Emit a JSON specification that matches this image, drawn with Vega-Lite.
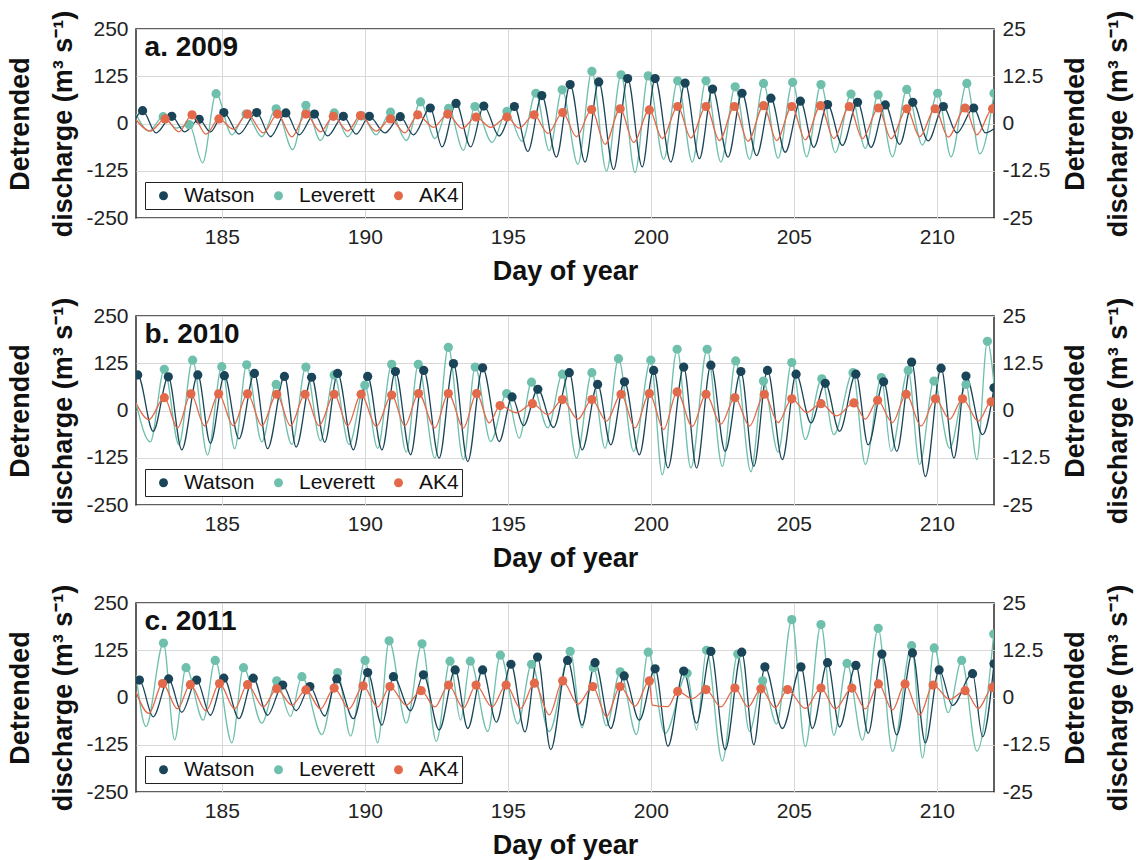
{
"$schema": "https://vega.github.io/schema/vega-lite/v6.json",
"padding": {"left": 6, "top": 9, "right": 2, "bottom": 2},
"background": "white",
"spacing": 11,
"resolve": {"scale": {"color": "independent"}},
"config": {
 "font": "Liberation Sans",
 "view": {"stroke": "#2b2b2b", "strokeWidth": 1.5},
 "axis": {"labelFontSize": 21, "labelColor": "#222", "labelFont": "Liberation Sans", "titleFontSize": 27, "titleFont": "Liberation Sans", "titleFontWeight": "bold", "titleColor": "#111", "ticks": false, "domain": false, "gridColor": "#d8d8d8", "gridWidth": 1, "labelPadding": 8, "titlePadding": 8},
 "axisX": {"titlePadding": 11},
 "axisY": {"titleLineHeight": 43},
 "legend": {"labelFontSize": 21, "labelFont": "Liberation Sans", "labelColor": "#111", "labelOffset": 10, "symbolOffset": 5}
},
"datasets": {
"a": [
{"s":"Watson","d":182.0,"v":15,"k":0},{"s":"Watson","d":182.23,"v":34,"k":1},{"s":"Watson","d":182.7,"v":-25,"k":0},{"s":"Watson","d":183.25,"v":19,"k":1},{"s":"Watson","d":183.7,"v":-22,"k":0},{"s":"Watson","d":184.21,"v":11,"k":1},{"s":"Watson","d":184.6,"v":-22,"k":0},{"s":"Watson","d":185.07,"v":29,"k":1},{"s":"Watson","d":185.6,"v":-28,"k":0},{"s":"Watson","d":186.22,"v":29,"k":1},{"s":"Watson","d":186.7,"v":-35,"k":0},{"s":"Watson","d":187.24,"v":28,"k":1},{"s":"Watson","d":187.7,"v":-30,"k":0},{"s":"Watson","d":188.24,"v":25,"k":1},{"s":"Watson","d":188.7,"v":-33,"k":0},{"s":"Watson","d":189.25,"v":19,"k":1},{"s":"Watson","d":189.7,"v":-28,"k":0},{"s":"Watson","d":190.16,"v":19,"k":1},{"s":"Watson","d":190.7,"v":-25,"k":0},{"s":"Watson","d":191.24,"v":18,"k":1},{"s":"Watson","d":191.7,"v":-30,"k":0},{"s":"Watson","d":192.29,"v":41,"k":1},{"s":"Watson","d":192.7,"v":-62,"k":0},{"s":"Watson","d":193.19,"v":53,"k":1},{"s":"Watson","d":193.7,"v":-62,"k":0},{"s":"Watson","d":194.16,"v":46,"k":1},{"s":"Watson","d":194.7,"v":-33,"k":0},{"s":"Watson","d":195.23,"v":45,"k":1},{"s":"Watson","d":195.7,"v":-74,"k":0},{"s":"Watson","d":196.19,"v":74,"k":1},{"s":"Watson","d":196.7,"v":-89,"k":0},{"s":"Watson","d":197.18,"v":103,"k":1},{"s":"Watson","d":197.7,"v":-102,"k":0},{"s":"Watson","d":198.18,"v":110,"k":1},{"s":"Watson","d":198.7,"v":-122,"k":0},{"s":"Watson","d":199.19,"v":119,"k":1},{"s":"Watson","d":199.7,"v":-115,"k":0},{"s":"Watson","d":200.15,"v":119,"k":1},{"s":"Watson","d":200.7,"v":-102,"k":0},{"s":"Watson","d":201.2,"v":107,"k":1},{"s":"Watson","d":201.7,"v":-93,"k":0},{"s":"Watson","d":202.16,"v":91,"k":1},{"s":"Watson","d":202.7,"v":-89,"k":0},{"s":"Watson","d":203.19,"v":80,"k":1},{"s":"Watson","d":203.7,"v":-85,"k":0},{"s":"Watson","d":204.2,"v":67,"k":1},{"s":"Watson","d":204.7,"v":-76,"k":0},{"s":"Watson","d":205.23,"v":59,"k":1},{"s":"Watson","d":205.7,"v":-63,"k":0},{"s":"Watson","d":206.18,"v":50,"k":1},{"s":"Watson","d":206.7,"v":-58,"k":0},{"s":"Watson","d":207.23,"v":56,"k":1},{"s":"Watson","d":207.7,"v":-63,"k":0},{"s":"Watson","d":208.2,"v":49,"k":1},{"s":"Watson","d":208.7,"v":-55,"k":0},{"s":"Watson","d":209.16,"v":56,"k":1},{"s":"Watson","d":209.7,"v":-46,"k":0},{"s":"Watson","d":210.23,"v":45,"k":1},{"s":"Watson","d":210.7,"v":-25,"k":0},{"s":"Watson","d":211.29,"v":41,"k":1},{"s":"Watson","d":211.7,"v":-25,"k":0},{"s":"Watson","d":212.0,"v":-14,"k":0},
{"s":"Leverett","d":182.0,"v":25,"k":0},{"s":"Leverett","d":182.45,"v":-20,"k":0},{"s":"Leverett","d":182.95,"v":18,"k":1},{"s":"Leverett","d":183.4,"v":-12,"k":0},{"s":"Leverett","d":183.86,"v":-3,"k":1},{"s":"Leverett","d":184.33,"v":-104,"k":0},{"s":"Leverett","d":184.8,"v":79,"k":1},{"s":"Leverett","d":185.35,"v":-30,"k":0},{"s":"Leverett","d":185.85,"v":25,"k":1},{"s":"Leverett","d":186.4,"v":-35,"k":0},{"s":"Leverett","d":186.9,"v":39,"k":1},{"s":"Leverett","d":187.48,"v":-69,"k":0},{"s":"Leverett","d":187.94,"v":48,"k":1},{"s":"Leverett","d":188.45,"v":-45,"k":0},{"s":"Leverett","d":188.93,"v":28,"k":1},{"s":"Leverett","d":189.4,"v":-35,"k":0},{"s":"Leverett","d":189.9,"v":20,"k":1},{"s":"Leverett","d":190.4,"v":-30,"k":0},{"s":"Leverett","d":190.9,"v":30,"k":1},{"s":"Leverett","d":191.45,"v":-45,"k":0},{"s":"Leverett","d":191.95,"v":57,"k":1},{"s":"Leverett","d":192.45,"v":-40,"k":0},{"s":"Leverett","d":192.93,"v":40,"k":1},{"s":"Leverett","d":193.45,"v":-71,"k":0},{"s":"Leverett","d":193.85,"v":45,"k":1},{"s":"Leverett","d":194.45,"v":-50,"k":0},{"s":"Leverett","d":194.97,"v":32,"k":1},{"s":"Leverett","d":195.5,"v":-47,"k":0},{"s":"Leverett","d":195.98,"v":80,"k":1},{"s":"Leverett","d":196.45,"v":-72,"k":0},{"s":"Leverett","d":196.9,"v":89,"k":1},{"s":"Leverett","d":197.45,"v":-108,"k":0},{"s":"Leverett","d":197.94,"v":138,"k":1},{"s":"Leverett","d":198.45,"v":-126,"k":0},{"s":"Leverett","d":198.96,"v":129,"k":1},{"s":"Leverett","d":199.45,"v":-130,"k":0},{"s":"Leverett","d":199.91,"v":126,"k":1},{"s":"Leverett","d":200.45,"v":-95,"k":0},{"s":"Leverett","d":200.94,"v":113,"k":1},{"s":"Leverett","d":201.45,"v":-102,"k":0},{"s":"Leverett","d":201.93,"v":113,"k":1},{"s":"Leverett","d":202.45,"v":-102,"k":0},{"s":"Leverett","d":202.95,"v":97,"k":1},{"s":"Leverett","d":203.45,"v":-95,"k":0},{"s":"Leverett","d":203.94,"v":106,"k":1},{"s":"Leverett","d":204.45,"v":-92,"k":0},{"s":"Leverett","d":204.96,"v":109,"k":1},{"s":"Leverett","d":205.45,"v":-88,"k":0},{"s":"Leverett","d":205.95,"v":103,"k":1},{"s":"Leverett","d":206.45,"v":-77,"k":0},{"s":"Leverett","d":207.0,"v":78,"k":1},{"s":"Leverett","d":207.5,"v":-66,"k":0},{"s":"Leverett","d":207.95,"v":76,"k":1},{"s":"Leverett","d":208.45,"v":-88,"k":0},{"s":"Leverett","d":208.95,"v":90,"k":1},{"s":"Leverett","d":209.5,"v":-57,"k":0},{"s":"Leverett","d":210.03,"v":80,"k":1},{"s":"Leverett","d":210.5,"v":-88,"k":0},{"s":"Leverett","d":211.05,"v":106,"k":1},{"s":"Leverett","d":211.5,"v":-80,"k":0},{"s":"Leverett","d":212.0,"v":80,"k":1},
{"s":"AK4","d":182.0,"v":1.0,"k":0},{"s":"AK4","d":182.5,"v":-2.0,"k":0},{"s":"AK4","d":183.02,"v":1.2,"k":1},{"s":"AK4","d":183.5,"v":-2.2,"k":0},{"s":"AK4","d":183.96,"v":2.3,"k":1},{"s":"AK4","d":184.45,"v":-2.8,"k":0},{"s":"AK4","d":184.9,"v":1.2,"k":1},{"s":"AK4","d":185.4,"v":-1.5,"k":0},{"s":"AK4","d":185.9,"v":2.5,"k":1},{"s":"AK4","d":186.45,"v":-2.5,"k":0},{"s":"AK4","d":186.95,"v":2.5,"k":1},{"s":"AK4","d":187.45,"v":-3.5,"k":0},{"s":"AK4","d":187.94,"v":2.5,"k":1},{"s":"AK4","d":188.45,"v":-2.2,"k":0},{"s":"AK4","d":188.9,"v":1.9,"k":1},{"s":"AK4","d":189.4,"v":-2.0,"k":0},{"s":"AK4","d":189.85,"v":2.1,"k":1},{"s":"AK4","d":190.4,"v":-2.0,"k":0},{"s":"AK4","d":190.9,"v":1.2,"k":1},{"s":"AK4","d":191.4,"v":-2.5,"k":0},{"s":"AK4","d":191.85,"v":2.3,"k":1},{"s":"AK4","d":192.4,"v":-1.0,"k":0},{"s":"AK4","d":192.9,"v":2.5,"k":1},{"s":"AK4","d":193.4,"v":-1.3,"k":0},{"s":"AK4","d":193.89,"v":1.7,"k":1},{"s":"AK4","d":194.4,"v":-1.0,"k":0},{"s":"AK4","d":194.97,"v":1.7,"k":1},{"s":"AK4","d":195.4,"v":-1.2,"k":0},{"s":"AK4","d":195.92,"v":2.3,"k":1},{"s":"AK4","d":196.4,"v":-2.6,"k":0},{"s":"AK4","d":196.92,"v":2.9,"k":1},{"s":"AK4","d":197.4,"v":-3.5,"k":0},{"s":"AK4","d":197.93,"v":3.7,"k":1},{"s":"AK4","d":198.4,"v":-5.5,"k":0},{"s":"AK4","d":198.93,"v":3.9,"k":1},{"s":"AK4","d":199.4,"v":-5.0,"k":0},{"s":"AK4","d":199.95,"v":3.6,"k":1},{"s":"AK4","d":200.4,"v":-4.0,"k":0},{"s":"AK4","d":200.94,"v":4.5,"k":1},{"s":"AK4","d":201.4,"v":-3.8,"k":0},{"s":"AK4","d":201.93,"v":4.5,"k":1},{"s":"AK4","d":202.4,"v":-4.5,"k":0},{"s":"AK4","d":202.92,"v":4.5,"k":1},{"s":"AK4","d":203.4,"v":-4.7,"k":0},{"s":"AK4","d":203.94,"v":4.7,"k":1},{"s":"AK4","d":204.4,"v":-4.5,"k":0},{"s":"AK4","d":204.93,"v":4.5,"k":1},{"s":"AK4","d":205.4,"v":-4.3,"k":0},{"s":"AK4","d":205.93,"v":4.7,"k":1},{"s":"AK4","d":206.4,"v":-4.0,"k":0},{"s":"AK4","d":206.94,"v":4.5,"k":1},{"s":"AK4","d":207.4,"v":-4.0,"k":0},{"s":"AK4","d":207.96,"v":4.1,"k":1},{"s":"AK4","d":208.4,"v":-4.0,"k":0},{"s":"AK4","d":208.95,"v":3.9,"k":1},{"s":"AK4","d":209.4,"v":-3.5,"k":0},{"s":"AK4","d":209.94,"v":3.9,"k":1},{"s":"AK4","d":210.4,"v":-3.6,"k":0},{"s":"AK4","d":210.99,"v":4.1,"k":1},{"s":"AK4","d":211.4,"v":-3.0,"k":0},{"s":"AK4","d":211.95,"v":3.9,"k":1},{"s":"AK4","d":212.0,"v":3.8,"k":0}
],
"b": [
{"s":"Watson","d":182.0,"v":85,"k":0},{"s":"Watson","d":182.06,"v":94,"k":1},{"s":"Watson","d":182.6,"v":-55,"k":0},{"s":"Watson","d":183.13,"v":89,"k":1},{"s":"Watson","d":183.6,"v":-104,"k":0},{"s":"Watson","d":184.16,"v":94,"k":1},{"s":"Watson","d":184.6,"v":-87,"k":0},{"s":"Watson","d":185.09,"v":92,"k":1},{"s":"Watson","d":185.6,"v":-75,"k":0},{"s":"Watson","d":186.14,"v":98,"k":1},{"s":"Watson","d":186.6,"v":-101,"k":0},{"s":"Watson","d":187.19,"v":90,"k":1},{"s":"Watson","d":187.6,"v":-97,"k":0},{"s":"Watson","d":188.14,"v":88,"k":1},{"s":"Watson","d":188.6,"v":-84,"k":0},{"s":"Watson","d":189.05,"v":98,"k":1},{"s":"Watson","d":189.6,"v":-104,"k":0},{"s":"Watson","d":190.1,"v":90,"k":1},{"s":"Watson","d":190.6,"v":-104,"k":0},{"s":"Watson","d":191.07,"v":103,"k":1},{"s":"Watson","d":191.6,"v":-117,"k":0},{"s":"Watson","d":192.06,"v":106,"k":1},{"s":"Watson","d":192.6,"v":-126,"k":0},{"s":"Watson","d":193.1,"v":124,"k":1},{"s":"Watson","d":193.6,"v":-135,"k":0},{"s":"Watson","d":194.12,"v":113,"k":1},{"s":"Watson","d":194.7,"v":-82,"k":0},{"s":"Watson","d":195.15,"v":36,"k":1},{"s":"Watson","d":195.55,"v":-40,"k":0},{"s":"Watson","d":196.05,"v":56,"k":1},{"s":"Watson","d":196.6,"v":-45,"k":0},{"s":"Watson","d":197.15,"v":100,"k":1},{"s":"Watson","d":197.6,"v":-104,"k":0},{"s":"Watson","d":198.14,"v":69,"k":1},{"s":"Watson","d":198.6,"v":-91,"k":0},{"s":"Watson","d":199.08,"v":76,"k":1},{"s":"Watson","d":199.6,"v":-117,"k":0},{"s":"Watson","d":200.1,"v":106,"k":1},{"s":"Watson","d":200.6,"v":-152,"k":0},{"s":"Watson","d":201.15,"v":115,"k":1},{"s":"Watson","d":201.6,"v":-152,"k":0},{"s":"Watson","d":202.1,"v":120,"k":1},{"s":"Watson","d":202.6,"v":-108,"k":0},{"s":"Watson","d":203.15,"v":103,"k":1},{"s":"Watson","d":203.6,"v":-148,"k":0},{"s":"Watson","d":204.08,"v":106,"k":1},{"s":"Watson","d":204.6,"v":-130,"k":0},{"s":"Watson","d":205.08,"v":96,"k":1},{"s":"Watson","d":205.6,"v":-33,"k":0},{"s":"Watson","d":206.1,"v":72,"k":1},{"s":"Watson","d":206.6,"v":-55,"k":0},{"s":"Watson","d":207.17,"v":96,"k":1},{"s":"Watson","d":207.6,"v":-91,"k":0},{"s":"Watson","d":208.14,"v":76,"k":1},{"s":"Watson","d":208.6,"v":-108,"k":0},{"s":"Watson","d":209.12,"v":128,"k":1},{"s":"Watson","d":209.6,"v":-175,"k":0},{"s":"Watson","d":210.15,"v":112,"k":1},{"s":"Watson","d":210.6,"v":-126,"k":0},{"s":"Watson","d":211.02,"v":91,"k":1},{"s":"Watson","d":211.6,"v":-64,"k":0},{"s":"Watson","d":212.0,"v":60,"k":1},
{"s":"Leverett","d":182.0,"v":20,"k":0},{"s":"Leverett","d":182.5,"v":-83,"k":0},{"s":"Leverett","d":182.99,"v":109,"k":1},{"s":"Leverett","d":183.5,"v":-90,"k":0},{"s":"Leverett","d":183.98,"v":133,"k":1},{"s":"Leverett","d":184.5,"v":-118,"k":0},{"s":"Leverett","d":185.0,"v":116,"k":1},{"s":"Leverett","d":185.45,"v":-101,"k":0},{"s":"Leverett","d":185.87,"v":121,"k":1},{"s":"Leverett","d":186.4,"v":-83,"k":0},{"s":"Leverett","d":186.9,"v":69,"k":1},{"s":"Leverett","d":187.45,"v":-90,"k":0},{"s":"Leverett","d":187.94,"v":115,"k":1},{"s":"Leverett","d":188.45,"v":-80,"k":0},{"s":"Leverett","d":188.93,"v":94,"k":1},{"s":"Leverett","d":189.45,"v":-90,"k":0},{"s":"Leverett","d":190.0,"v":67,"k":1},{"s":"Leverett","d":190.45,"v":-100,"k":0},{"s":"Leverett","d":190.94,"v":122,"k":1},{"s":"Leverett","d":191.45,"v":-110,"k":0},{"s":"Leverett","d":191.87,"v":122,"k":1},{"s":"Leverett","d":192.45,"v":-126,"k":0},{"s":"Leverett","d":192.92,"v":167,"k":1},{"s":"Leverett","d":193.45,"v":-130,"k":0},{"s":"Leverett","d":193.86,"v":115,"k":1},{"s":"Leverett","d":194.4,"v":-82,"k":0},{"s":"Leverett","d":194.96,"v":45,"k":1},{"s":"Leverett","d":195.4,"v":-73,"k":0},{"s":"Leverett","d":195.83,"v":75,"k":1},{"s":"Leverett","d":196.4,"v":-46,"k":0},{"s":"Leverett","d":196.91,"v":96,"k":1},{"s":"Leverett","d":197.4,"v":-126,"k":0},{"s":"Leverett","d":197.94,"v":100,"k":1},{"s":"Leverett","d":198.4,"v":-100,"k":0},{"s":"Leverett","d":198.87,"v":137,"k":1},{"s":"Leverett","d":199.4,"v":-108,"k":0},{"s":"Leverett","d":200.0,"v":133,"k":1},{"s":"Leverett","d":200.4,"v":-170,"k":0},{"s":"Leverett","d":200.92,"v":162,"k":1},{"s":"Leverett","d":201.4,"v":-152,"k":0},{"s":"Leverett","d":201.97,"v":162,"k":1},{"s":"Leverett","d":202.5,"v":-148,"k":0},{"s":"Leverett","d":202.97,"v":131,"k":1},{"s":"Leverett","d":203.5,"v":-162,"k":0},{"s":"Leverett","d":203.94,"v":78,"k":1},{"s":"Leverett","d":204.45,"v":-110,"k":0},{"s":"Leverett","d":204.93,"v":127,"k":1},{"s":"Leverett","d":205.4,"v":-77,"k":0},{"s":"Leverett","d":205.98,"v":84,"k":1},{"s":"Leverett","d":206.4,"v":-64,"k":0},{"s":"Leverett","d":207.07,"v":100,"k":1},{"s":"Leverett","d":207.5,"v":-143,"k":0},{"s":"Leverett","d":208.06,"v":87,"k":1},{"s":"Leverett","d":208.4,"v":-108,"k":0},{"s":"Leverett","d":209.0,"v":106,"k":1},{"s":"Leverett","d":209.4,"v":-143,"k":0},{"s":"Leverett","d":209.9,"v":78,"k":1},{"s":"Leverett","d":210.45,"v":-100,"k":0},{"s":"Leverett","d":211.02,"v":69,"k":1},{"s":"Leverett","d":211.4,"v":-130,"k":0},{"s":"Leverett","d":211.77,"v":183,"k":1},{"s":"Leverett","d":212.0,"v":70,"k":0},
{"s":"AK4","d":182.0,"v":2.0,"k":0},{"s":"AK4","d":182.45,"v":-2.4,"k":0},{"s":"AK4","d":182.99,"v":3.4,"k":1},{"s":"AK4","d":183.45,"v":-4.6,"k":0},{"s":"AK4","d":183.92,"v":4.4,"k":1},{"s":"AK4","d":184.4,"v":-4.1,"k":0},{"s":"AK4","d":184.89,"v":4.4,"k":1},{"s":"AK4","d":185.4,"v":-4.0,"k":0},{"s":"AK4","d":185.9,"v":4.4,"k":1},{"s":"AK4","d":186.4,"v":-4.0,"k":0},{"s":"AK4","d":186.92,"v":4.3,"k":1},{"s":"AK4","d":187.4,"v":-4.0,"k":0},{"s":"AK4","d":187.91,"v":4.3,"k":1},{"s":"AK4","d":188.4,"v":-4.0,"k":0},{"s":"AK4","d":188.93,"v":4.3,"k":1},{"s":"AK4","d":189.4,"v":-4.0,"k":0},{"s":"AK4","d":189.87,"v":4.3,"k":1},{"s":"AK4","d":190.4,"v":-4.2,"k":0},{"s":"AK4","d":190.94,"v":4.1,"k":1},{"s":"AK4","d":191.4,"v":-4.0,"k":0},{"s":"AK4","d":191.88,"v":4.5,"k":1},{"s":"AK4","d":192.45,"v":-4.6,"k":0},{"s":"AK4","d":192.92,"v":4.5,"k":1},{"s":"AK4","d":193.45,"v":-4.6,"k":0},{"s":"AK4","d":193.91,"v":4.5,"k":1},{"s":"AK4","d":194.35,"v":-3.3,"k":0},{"s":"AK4","d":194.73,"v":1.3,"k":1},{"s":"AK4","d":195.3,"v":-0.6,"k":0},{"s":"AK4","d":195.86,"v":1.8,"k":1},{"s":"AK4","d":196.4,"v":-1.1,"k":0},{"s":"AK4","d":196.91,"v":2.9,"k":1},{"s":"AK4","d":197.45,"v":-2.3,"k":0},{"s":"AK4","d":197.94,"v":2.9,"k":1},{"s":"AK4","d":198.45,"v":-2.8,"k":0},{"s":"AK4","d":198.96,"v":4.3,"k":1},{"s":"AK4","d":199.45,"v":-4.6,"k":0},{"s":"AK4","d":199.95,"v":4.5,"k":1},{"s":"AK4","d":200.45,"v":-5.0,"k":0},{"s":"AK4","d":200.92,"v":4.9,"k":1},{"s":"AK4","d":201.45,"v":-4.2,"k":0},{"s":"AK4","d":201.93,"v":4.3,"k":1},{"s":"AK4","d":202.45,"v":-3.6,"k":0},{"s":"AK4","d":202.94,"v":3.4,"k":1},{"s":"AK4","d":203.45,"v":-4.1,"k":0},{"s":"AK4","d":203.97,"v":4.3,"k":1},{"s":"AK4","d":204.45,"v":-3.2,"k":0},{"s":"AK4","d":204.93,"v":3.1,"k":1},{"s":"AK4","d":205.45,"v":-0.5,"k":0},{"s":"AK4","d":205.95,"v":1.8,"k":1},{"s":"AK4","d":206.5,"v":-1.4,"k":0},{"s":"AK4","d":207.1,"v":2.0,"k":1},{"s":"AK4","d":207.5,"v":-2.3,"k":0},{"s":"AK4","d":207.93,"v":2.7,"k":1},{"s":"AK4","d":208.45,"v":-3.2,"k":0},{"s":"AK4","d":208.93,"v":4.3,"k":1},{"s":"AK4","d":209.45,"v":-4.1,"k":0},{"s":"AK4","d":209.95,"v":3.1,"k":1},{"s":"AK4","d":210.45,"v":-2.3,"k":0},{"s":"AK4","d":210.9,"v":3.1,"k":1},{"s":"AK4","d":211.45,"v":-2.8,"k":0},{"s":"AK4","d":211.9,"v":2.3,"k":1},{"s":"AK4","d":212.0,"v":2.0,"k":0}
],
"c": [
{"s":"Watson","d":182.0,"v":35,"k":0},{"s":"Watson","d":182.12,"v":46,"k":1},{"s":"Watson","d":182.6,"v":-51,"k":0},{"s":"Watson","d":183.14,"v":49,"k":1},{"s":"Watson","d":183.6,"v":-39,"k":0},{"s":"Watson","d":184.12,"v":46,"k":1},{"s":"Watson","d":184.6,"v":-47,"k":0},{"s":"Watson","d":185.07,"v":51,"k":1},{"s":"Watson","d":185.6,"v":-56,"k":0},{"s":"Watson","d":186.1,"v":51,"k":1},{"s":"Watson","d":186.6,"v":-47,"k":0},{"s":"Watson","d":187.13,"v":33,"k":1},{"s":"Watson","d":187.6,"v":-35,"k":0},{"s":"Watson","d":188.08,"v":29,"k":1},{"s":"Watson","d":188.6,"v":-49,"k":0},{"s":"Watson","d":189.02,"v":49,"k":1},{"s":"Watson","d":189.6,"v":-56,"k":0},{"s":"Watson","d":190.1,"v":66,"k":1},{"s":"Watson","d":190.6,"v":-73,"k":0},{"s":"Watson","d":191.0,"v":55,"k":1},{"s":"Watson","d":191.6,"v":-35,"k":0},{"s":"Watson","d":192.05,"v":60,"k":1},{"s":"Watson","d":192.6,"v":-86,"k":0},{"s":"Watson","d":193.16,"v":73,"k":1},{"s":"Watson","d":193.6,"v":-82,"k":0},{"s":"Watson","d":194.12,"v":73,"k":1},{"s":"Watson","d":194.6,"v":-65,"k":0},{"s":"Watson","d":195.11,"v":88,"k":1},{"s":"Watson","d":195.6,"v":-91,"k":0},{"s":"Watson","d":196.04,"v":107,"k":1},{"s":"Watson","d":196.5,"v":-138,"k":0},{"s":"Watson","d":197.09,"v":98,"k":1},{"s":"Watson","d":197.6,"v":-73,"k":0},{"s":"Watson","d":198.05,"v":92,"k":1},{"s":"Watson","d":198.6,"v":-82,"k":0},{"s":"Watson","d":199.07,"v":57,"k":1},{"s":"Watson","d":199.6,"v":-60,"k":0},{"s":"Watson","d":200.15,"v":76,"k":1},{"s":"Watson","d":200.6,"v":-129,"k":0},{"s":"Watson","d":201.15,"v":70,"k":1},{"s":"Watson","d":201.6,"v":-68,"k":0},{"s":"Watson","d":202.1,"v":122,"k":1},{"s":"Watson","d":202.6,"v":-138,"k":0},{"s":"Watson","d":203.18,"v":120,"k":1},{"s":"Watson","d":203.6,"v":-125,"k":0},{"s":"Watson","d":203.99,"v":81,"k":1},{"s":"Watson","d":204.6,"v":-82,"k":0},{"s":"Watson","d":205.25,"v":81,"k":1},{"s":"Watson","d":205.65,"v":-82,"k":0},{"s":"Watson","d":206.18,"v":92,"k":1},{"s":"Watson","d":206.6,"v":-78,"k":0},{"s":"Watson","d":207.17,"v":85,"k":1},{"s":"Watson","d":207.6,"v":-95,"k":0},{"s":"Watson","d":208.08,"v":115,"k":1},{"s":"Watson","d":208.6,"v":-99,"k":0},{"s":"Watson","d":209.15,"v":118,"k":1},{"s":"Watson","d":209.6,"v":-120,"k":0},{"s":"Watson","d":210.08,"v":73,"k":1},{"s":"Watson","d":210.55,"v":-21,"k":0},{"s":"Watson","d":211.25,"v":63,"k":1},{"s":"Watson","d":211.6,"v":-104,"k":0},{"s":"Watson","d":212.0,"v":89,"k":1},
{"s":"Leverett","d":182.0,"v":60,"k":0},{"s":"Leverett","d":182.35,"v":-77,"k":0},{"s":"Leverett","d":182.96,"v":144,"k":1},{"s":"Leverett","d":183.35,"v":-112,"k":0},{"s":"Leverett","d":183.75,"v":79,"k":1},{"s":"Leverett","d":184.35,"v":-60,"k":0},{"s":"Leverett","d":184.77,"v":98,"k":1},{"s":"Leverett","d":185.35,"v":-120,"k":0},{"s":"Leverett","d":185.76,"v":79,"k":1},{"s":"Leverett","d":186.4,"v":-68,"k":0},{"s":"Leverett","d":186.92,"v":44,"k":1},{"s":"Leverett","d":187.4,"v":-50,"k":0},{"s":"Leverett","d":187.8,"v":55,"k":1},{"s":"Leverett","d":188.5,"v":-98,"k":0},{"s":"Leverett","d":189.05,"v":66,"k":1},{"s":"Leverett","d":189.5,"v":-102,"k":0},{"s":"Leverett","d":190.01,"v":98,"k":1},{"s":"Leverett","d":190.45,"v":-120,"k":0},{"s":"Leverett","d":190.85,"v":150,"k":1},{"s":"Leverett","d":191.45,"v":-68,"k":0},{"s":"Leverett","d":192.0,"v":142,"k":1},{"s":"Leverett","d":192.5,"v":-116,"k":0},{"s":"Leverett","d":192.98,"v":96,"k":1},{"s":"Leverett","d":193.35,"v":-60,"k":0},{"s":"Leverett","d":193.69,"v":96,"k":1},{"s":"Leverett","d":194.3,"v":-90,"k":0},{"s":"Leverett","d":194.74,"v":112,"k":1},{"s":"Leverett","d":195.35,"v":-70,"k":0},{"s":"Leverett","d":195.83,"v":88,"k":1},{"s":"Leverett","d":196.45,"v":-90,"k":0},{"s":"Leverett","d":197.18,"v":122,"k":1},{"s":"Leverett","d":197.6,"v":-80,"k":0},{"s":"Leverett","d":197.99,"v":79,"k":1},{"s":"Leverett","d":198.45,"v":-75,"k":0},{"s":"Leverett","d":198.93,"v":68,"k":1},{"s":"Leverett","d":199.5,"v":-98,"k":0},{"s":"Leverett","d":199.91,"v":120,"k":1},{"s":"Leverett","d":200.5,"v":-95,"k":0},{"s":"Leverett","d":201.27,"v":64,"k":1},{"s":"Leverett","d":201.6,"v":-86,"k":0},{"s":"Leverett","d":201.95,"v":125,"k":1},{"s":"Leverett","d":202.5,"v":-168,"k":0},{"s":"Leverett","d":203.04,"v":115,"k":1},{"s":"Leverett","d":203.45,"v":-90,"k":0},{"s":"Leverett","d":203.91,"v":44,"k":1},{"s":"Leverett","d":204.4,"v":-70,"k":0},{"s":"Leverett","d":204.93,"v":206,"k":1},{"s":"Leverett","d":205.4,"v":-130,"k":0},{"s":"Leverett","d":205.95,"v":193,"k":1},{"s":"Leverett","d":206.4,"v":-100,"k":0},{"s":"Leverett","d":206.86,"v":90,"k":1},{"s":"Leverett","d":207.4,"v":-113,"k":0},{"s":"Leverett","d":207.95,"v":183,"k":1},{"s":"Leverett","d":208.45,"v":-143,"k":0},{"s":"Leverett","d":209.12,"v":137,"k":1},{"s":"Leverett","d":209.5,"v":-160,"k":0},{"s":"Leverett","d":209.91,"v":131,"k":1},{"s":"Leverett","d":210.4,"v":-40,"k":0},{"s":"Leverett","d":210.87,"v":98,"k":1},{"s":"Leverett","d":211.4,"v":-142,"k":0},{"s":"Leverett","d":211.99,"v":168,"k":1},
{"s":"AK4","d":182.0,"v":1.5,"k":0},{"s":"AK4","d":182.45,"v":-4.2,"k":0},{"s":"AK4","d":182.93,"v":3.7,"k":1},{"s":"AK4","d":183.45,"v":-3.0,"k":0},{"s":"AK4","d":183.9,"v":3.4,"k":1},{"s":"AK4","d":184.45,"v":-3.5,"k":0},{"s":"AK4","d":184.92,"v":3.7,"k":1},{"s":"AK4","d":185.45,"v":-3.0,"k":0},{"s":"AK4","d":185.9,"v":3.4,"k":1},{"s":"AK4","d":186.45,"v":-2.5,"k":0},{"s":"AK4","d":186.92,"v":2.3,"k":1},{"s":"AK4","d":187.45,"v":-2.0,"k":0},{"s":"AK4","d":187.94,"v":2.0,"k":1},{"s":"AK4","d":188.45,"v":-3.0,"k":0},{"s":"AK4","d":188.93,"v":2.5,"k":1},{"s":"AK4","d":189.45,"v":-3.0,"k":0},{"s":"AK4","d":189.94,"v":3.1,"k":1},{"s":"AK4","d":190.45,"v":-2.5,"k":0},{"s":"AK4","d":190.88,"v":2.9,"k":1},{"s":"AK4","d":191.45,"v":-2.0,"k":0},{"s":"AK4","d":191.97,"v":1.8,"k":1},{"s":"AK4","d":192.45,"v":-2.5,"k":0},{"s":"AK4","d":192.93,"v":3.3,"k":1},{"s":"AK4","d":193.45,"v":-2.8,"k":0},{"s":"AK4","d":193.89,"v":3.3,"k":1},{"s":"AK4","d":194.45,"v":-2.5,"k":0},{"s":"AK4","d":194.94,"v":3.3,"k":1},{"s":"AK4","d":195.45,"v":-2.9,"k":0},{"s":"AK4","d":195.93,"v":3.8,"k":1},{"s":"AK4","d":196.45,"v":-4.6,"k":0},{"s":"AK4","d":196.92,"v":4.4,"k":1},{"s":"AK4","d":197.45,"v":-1.8,"k":0},{"s":"AK4","d":197.97,"v":2.9,"k":1},{"s":"AK4","d":198.45,"v":-5.0,"k":0},{"s":"AK4","d":198.93,"v":2.9,"k":1},{"s":"AK4","d":199.45,"v":-2.3,"k":0},{"s":"AK4","d":199.95,"v":4.4,"k":1},{"s":"AK4","d":200.05,"v":-2.0,"k":0},{"s":"AK4","d":200.6,"v":-2.4,"k":0},{"s":"AK4","d":200.94,"v":1.6,"k":1},{"s":"AK4","d":201.45,"v":-0.3,"k":0},{"s":"AK4","d":201.93,"v":2.1,"k":1},{"s":"AK4","d":202.45,"v":-2.5,"k":0},{"s":"AK4","d":202.94,"v":2.5,"k":1},{"s":"AK4","d":203.4,"v":-2.5,"k":0},{"s":"AK4","d":203.85,"v":2.3,"k":1},{"s":"AK4","d":204.35,"v":-2.7,"k":0},{"s":"AK4","d":204.78,"v":2.1,"k":1},{"s":"AK4","d":205.4,"v":-2.9,"k":0},{"s":"AK4","d":205.95,"v":2.5,"k":1},{"s":"AK4","d":206.45,"v":-3.0,"k":0},{"s":"AK4","d":207.03,"v":2.5,"k":1},{"s":"AK4","d":207.5,"v":-3.0,"k":0},{"s":"AK4","d":207.96,"v":3.6,"k":1},{"s":"AK4","d":208.45,"v":-3.3,"k":0},{"s":"AK4","d":208.89,"v":3.6,"k":1},{"s":"AK4","d":209.4,"v":-4.6,"k":0},{"s":"AK4","d":209.87,"v":3.3,"k":1},{"s":"AK4","d":210.45,"v":-0.5,"k":0},{"s":"AK4","d":210.99,"v":1.8,"k":1},{"s":"AK4","d":211.45,"v":-2.9,"k":0},{"s":"AK4","d":211.95,"v":2.7,"k":1},{"s":"AK4","d":212.0,"v":2.5,"k":0}
]
},
"vconcat": [
{
 "width": 858, "height": 189,
 "resolve": {"scale": {"y": "independent"}},
 "layer": [
  {"data": {"name": "a"},
   "layer": [
    {"transform": [{"filter": "datum.s == 'Leverett'"}], "mark": {"type": "line", "interpolate": "monotone", "strokeWidth": 1.3, "clip": true, "color": "#6fbfad"},
     "encoding": {"x": {"field": "d", "type": "quantitative", "scale": {"domain": [182, 212], "nice": false, "zero": false}, "axis": {"values": [185, 190, 195, 200, 205, 210], "title": "Day of year", "grid": true}},
      "y": {"field": "v", "type": "quantitative", "scale": {"domain": [-250, 250], "nice": false, "zero": false}, "axis": {"values": [-250, -125, 0, 125, 250], "title": ["Detrended", "discharge (m³ s⁻¹)"], "grid": true, "labelExpr": "'' + datum.value"}}}},
    {"transform": [{"filter": "datum.s == 'Watson'"}], "mark": {"type": "line", "interpolate": "monotone", "strokeWidth": 1.3, "clip": true, "color": "#1a4558"},
     "encoding": {"x": {"field": "d", "type": "quantitative"}, "y": {"field": "v", "type": "quantitative"}}},
    {"transform": [{"filter": "datum.s == 'Leverett' && datum.k == 1"}], "mark": {"type": "point", "filled": true, "opacity": 1, "size": 85, "clip": true},
     "encoding": {"x": {"field": "d", "type": "quantitative"}, "y": {"field": "v", "type": "quantitative"},
      "color": {"field": "s", "type": "nominal", "scale": {"domain": ["Watson", "Leverett", "AK4"], "range": ["#1a4558", "#6fbfad", "#e3694b"]}, "legend": {"orient": "bottom-left", "direction": "horizontal", "title": null, "symbolType": "circle", "symbolSize": 80, "strokeColor": "#222", "fillColor": "white", "padding": 3, "offset": 9, "columnPadding": 8}}}},
    {"transform": [{"filter": "datum.s == 'Watson' && datum.k == 1"}], "mark": {"type": "point", "filled": true, "opacity": 1, "size": 85, "clip": true},
     "encoding": {"x": {"field": "d", "type": "quantitative"}, "y": {"field": "v", "type": "quantitative"},
      "color": {"field": "s", "type": "nominal", "scale": {"domain": ["Watson", "Leverett", "AK4"], "range": ["#1a4558", "#6fbfad", "#e3694b"]}, "legend": {"orient": "bottom-left", "direction": "horizontal", "title": null, "symbolType": "circle", "symbolSize": 80, "strokeColor": "#222", "fillColor": "white", "padding": 3, "offset": 9, "columnPadding": 8}}}},
    {"data": {"values": [{"lab": "a. 2009"}]}, "mark": {"type": "text", "align": "left", "baseline": "middle", "fontSize": 28, "fontWeight": "bold", "color": "#111"},
     "encoding": {"x": {"datum": 182.3, "type": "quantitative"}, "y": {"datum": 200, "type": "quantitative"}, "text": {"field": "lab"}}}
   ]},
  {"data": {"name": "a"}, "transform": [{"filter": "datum.s == 'AK4'"}],
   "layer": [
    {"mark": {"type": "line", "interpolate": "monotone", "strokeWidth": 1.3, "clip": true, "color": "#e3694b"},
     "encoding": {"x": {"field": "d", "type": "quantitative"},
      "y": {"field": "v", "type": "quantitative", "scale": {"domain": [-25, 25], "nice": false, "zero": false}, "axis": {"orient": "right", "values": [-25, -12.5, 0, 12.5, 25], "title": ["Detrended", "discharge (m³ s⁻¹)"], "grid": false, "labelExpr": "'' + datum.value", "titleAngle": 270, "titleBaseline": "top", "titlePadding": -30}}}},
    {"transform": [{"filter": "datum.k == 1"}], "mark": {"type": "point", "filled": true, "opacity": 1, "size": 85, "clip": true},
     "encoding": {"x": {"field": "d", "type": "quantitative"}, "y": {"field": "v", "type": "quantitative"},
      "color": {"field": "s", "type": "nominal", "scale": {"domain": ["Watson", "Leverett", "AK4"], "range": ["#1a4558", "#6fbfad", "#e3694b"]}, "legend": {"orient": "bottom-left", "direction": "horizontal", "title": null, "symbolType": "circle", "symbolSize": 80, "strokeColor": "#222", "fillColor": "white", "padding": 3, "offset": 9, "columnPadding": 8}}}}
   ]}
 ]
},
{
 "width": 858, "height": 189,
 "resolve": {"scale": {"y": "independent"}},
 "layer": [
  {"data": {"name": "b"},
   "layer": [
    {"transform": [{"filter": "datum.s == 'Leverett'"}], "mark": {"type": "line", "interpolate": "monotone", "strokeWidth": 1.3, "clip": true, "color": "#6fbfad"},
     "encoding": {"x": {"field": "d", "type": "quantitative", "scale": {"domain": [182, 212], "nice": false, "zero": false}, "axis": {"values": [185, 190, 195, 200, 205, 210], "title": "Day of year", "grid": true}},
      "y": {"field": "v", "type": "quantitative", "scale": {"domain": [-250, 250], "nice": false, "zero": false}, "axis": {"values": [-250, -125, 0, 125, 250], "title": ["Detrended", "discharge (m³ s⁻¹)"], "grid": true, "labelExpr": "'' + datum.value"}}}},
    {"transform": [{"filter": "datum.s == 'Watson'"}], "mark": {"type": "line", "interpolate": "monotone", "strokeWidth": 1.3, "clip": true, "color": "#1a4558"},
     "encoding": {"x": {"field": "d", "type": "quantitative"}, "y": {"field": "v", "type": "quantitative"}}},
    {"transform": [{"filter": "datum.s == 'Leverett' && datum.k == 1"}], "mark": {"type": "point", "filled": true, "opacity": 1, "size": 85, "clip": true},
     "encoding": {"x": {"field": "d", "type": "quantitative"}, "y": {"field": "v", "type": "quantitative"},
      "color": {"field": "s", "type": "nominal", "scale": {"domain": ["Watson", "Leverett", "AK4"], "range": ["#1a4558", "#6fbfad", "#e3694b"]}, "legend": {"orient": "bottom-left", "direction": "horizontal", "title": null, "symbolType": "circle", "symbolSize": 80, "strokeColor": "#222", "fillColor": "white", "padding": 3, "offset": 9, "columnPadding": 8}}}},
    {"transform": [{"filter": "datum.s == 'Watson' && datum.k == 1"}], "mark": {"type": "point", "filled": true, "opacity": 1, "size": 85, "clip": true},
     "encoding": {"x": {"field": "d", "type": "quantitative"}, "y": {"field": "v", "type": "quantitative"},
      "color": {"field": "s", "type": "nominal", "scale": {"domain": ["Watson", "Leverett", "AK4"], "range": ["#1a4558", "#6fbfad", "#e3694b"]}, "legend": {"orient": "bottom-left", "direction": "horizontal", "title": null, "symbolType": "circle", "symbolSize": 80, "strokeColor": "#222", "fillColor": "white", "padding": 3, "offset": 9, "columnPadding": 8}}}},
    {"data": {"values": [{"lab": "b. 2010"}]}, "mark": {"type": "text", "align": "left", "baseline": "middle", "fontSize": 28, "fontWeight": "bold", "color": "#111"},
     "encoding": {"x": {"datum": 182.3, "type": "quantitative"}, "y": {"datum": 200, "type": "quantitative"}, "text": {"field": "lab"}}}
   ]},
  {"data": {"name": "b"}, "transform": [{"filter": "datum.s == 'AK4'"}],
   "layer": [
    {"mark": {"type": "line", "interpolate": "monotone", "strokeWidth": 1.3, "clip": true, "color": "#e3694b"},
     "encoding": {"x": {"field": "d", "type": "quantitative"},
      "y": {"field": "v", "type": "quantitative", "scale": {"domain": [-25, 25], "nice": false, "zero": false}, "axis": {"orient": "right", "values": [-25, -12.5, 0, 12.5, 25], "title": ["Detrended", "discharge (m³ s⁻¹)"], "grid": false, "labelExpr": "'' + datum.value", "titleAngle": 270, "titleBaseline": "top", "titlePadding": -30}}}},
    {"transform": [{"filter": "datum.k == 1"}], "mark": {"type": "point", "filled": true, "opacity": 1, "size": 85, "clip": true},
     "encoding": {"x": {"field": "d", "type": "quantitative"}, "y": {"field": "v", "type": "quantitative"},
      "color": {"field": "s", "type": "nominal", "scale": {"domain": ["Watson", "Leverett", "AK4"], "range": ["#1a4558", "#6fbfad", "#e3694b"]}, "legend": {"orient": "bottom-left", "direction": "horizontal", "title": null, "symbolType": "circle", "symbolSize": 80, "strokeColor": "#222", "fillColor": "white", "padding": 3, "offset": 9, "columnPadding": 8}}}}
   ]}
 ]
},
{
 "width": 858, "height": 189,
 "resolve": {"scale": {"y": "independent"}},
 "layer": [
  {"data": {"name": "c"},
   "layer": [
    {"transform": [{"filter": "datum.s == 'Leverett'"}], "mark": {"type": "line", "interpolate": "monotone", "strokeWidth": 1.3, "clip": true, "color": "#6fbfad"},
     "encoding": {"x": {"field": "d", "type": "quantitative", "scale": {"domain": [182, 212], "nice": false, "zero": false}, "axis": {"values": [185, 190, 195, 200, 205, 210], "title": "Day of year", "grid": true}},
      "y": {"field": "v", "type": "quantitative", "scale": {"domain": [-250, 250], "nice": false, "zero": false}, "axis": {"values": [-250, -125, 0, 125, 250], "title": ["Detrended", "discharge (m³ s⁻¹)"], "grid": true, "labelExpr": "'' + datum.value"}}}},
    {"transform": [{"filter": "datum.s == 'Watson'"}], "mark": {"type": "line", "interpolate": "monotone", "strokeWidth": 1.3, "clip": true, "color": "#1a4558"},
     "encoding": {"x": {"field": "d", "type": "quantitative"}, "y": {"field": "v", "type": "quantitative"}}},
    {"transform": [{"filter": "datum.s == 'Leverett' && datum.k == 1"}], "mark": {"type": "point", "filled": true, "opacity": 1, "size": 85, "clip": true},
     "encoding": {"x": {"field": "d", "type": "quantitative"}, "y": {"field": "v", "type": "quantitative"},
      "color": {"field": "s", "type": "nominal", "scale": {"domain": ["Watson", "Leverett", "AK4"], "range": ["#1a4558", "#6fbfad", "#e3694b"]}, "legend": {"orient": "bottom-left", "direction": "horizontal", "title": null, "symbolType": "circle", "symbolSize": 80, "strokeColor": "#222", "fillColor": "white", "padding": 3, "offset": 9, "columnPadding": 8}}}},
    {"transform": [{"filter": "datum.s == 'Watson' && datum.k == 1"}], "mark": {"type": "point", "filled": true, "opacity": 1, "size": 85, "clip": true},
     "encoding": {"x": {"field": "d", "type": "quantitative"}, "y": {"field": "v", "type": "quantitative"},
      "color": {"field": "s", "type": "nominal", "scale": {"domain": ["Watson", "Leverett", "AK4"], "range": ["#1a4558", "#6fbfad", "#e3694b"]}, "legend": {"orient": "bottom-left", "direction": "horizontal", "title": null, "symbolType": "circle", "symbolSize": 80, "strokeColor": "#222", "fillColor": "white", "padding": 3, "offset": 9, "columnPadding": 8}}}},
    {"data": {"values": [{"lab": "c. 2011"}]}, "mark": {"type": "text", "align": "left", "baseline": "middle", "fontSize": 28, "fontWeight": "bold", "color": "#111"},
     "encoding": {"x": {"datum": 182.3, "type": "quantitative"}, "y": {"datum": 200, "type": "quantitative"}, "text": {"field": "lab"}}}
   ]},
  {"data": {"name": "c"}, "transform": [{"filter": "datum.s == 'AK4'"}],
   "layer": [
    {"mark": {"type": "line", "interpolate": "monotone", "strokeWidth": 1.3, "clip": true, "color": "#e3694b"},
     "encoding": {"x": {"field": "d", "type": "quantitative"},
      "y": {"field": "v", "type": "quantitative", "scale": {"domain": [-25, 25], "nice": false, "zero": false}, "axis": {"orient": "right", "values": [-25, -12.5, 0, 12.5, 25], "title": ["Detrended", "discharge (m³ s⁻¹)"], "grid": false, "labelExpr": "'' + datum.value", "titleAngle": 270, "titleBaseline": "top", "titlePadding": -30}}}},
    {"transform": [{"filter": "datum.k == 1"}], "mark": {"type": "point", "filled": true, "opacity": 1, "size": 85, "clip": true},
     "encoding": {"x": {"field": "d", "type": "quantitative"}, "y": {"field": "v", "type": "quantitative"},
      "color": {"field": "s", "type": "nominal", "scale": {"domain": ["Watson", "Leverett", "AK4"], "range": ["#1a4558", "#6fbfad", "#e3694b"]}, "legend": {"orient": "bottom-left", "direction": "horizontal", "title": null, "symbolType": "circle", "symbolSize": 80, "strokeColor": "#222", "fillColor": "white", "padding": 3, "offset": 9, "columnPadding": 8}}}}
   ]}
 ]
}
]
}
